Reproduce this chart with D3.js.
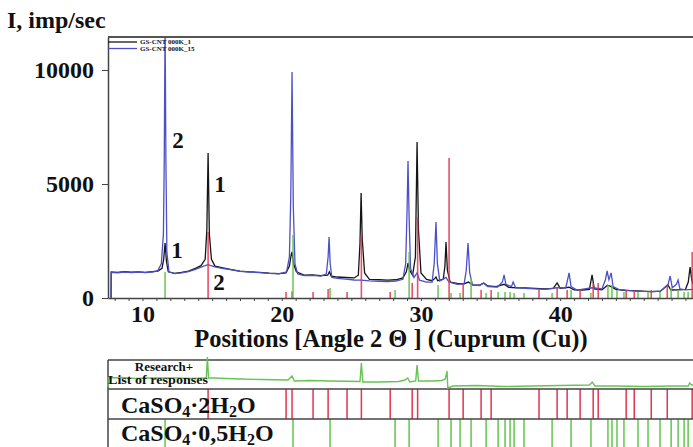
<!DOCTYPE html>
<html><head><meta charset="utf-8">
<script src="https://cdn.jsdelivr.net/npm/d3@7/dist/d3.min.js"></script>
<style>
body{margin:0;background:#fff;}
svg{display:block;}
text{font-family:"Liberation Serif","Times New Roman",serif;font-weight:bold;fill:#111;}
</style>
</head><body>
<svg id="chart" width="693" height="447"></svg>
<script>
// ---------------- data ----------------
const yTitle = "I, imp/sec";
const xTitle = "Positions [Angle 2 \u0398 ] (Cuprum (Cu))";
const xTickLabels = [10, 20, 30, 40];
const yTickValues = [0, 5000, 10000];
const legendNames = ["GS-CNT 000K_1", "GS-CNT 000K_15"];

// sample 1 (black)
const s1Theta = [7.74,7.75,8.2,8.7,9.2,9.7,10.2,10.7,11.1,11.4,11.52,11.62,11.72,11.85,12.3,12.8,13.3,13.8,14.2,14.5,14.62,14.71,14.8,14.95,15.2,15.7,16.3,17.0,17.7,18.4,19.1,19.8,20.3,20.55,20.68,20.74,20.85,21.05,21.6,22.2,22.8,23.3,23.42,23.55,24.0,24.6,25.2,25.5,25.62,25.70,25.78,25.95,26.3,27.0,27.6,28.2,28.7,28.95,29.07,29.2,29.4,29.6,29.72,29.82,30.0,30.4,30.8,31.0,31.08,31.2,31.6,31.72,31.80,31.9,32.1,32.6,33.1,33.4,33.7,34.2,34.5,34.8,35.4,35.97,36.3,36.9,37.5,38.2,38.9,39.5,39.78,40.0,40.64,41.0,41.6,42.1,42.29,42.45,43.0,43.4,43.66,44.0,44.6,45.2,45.9,46.6,47.2,47.74,47.95,48.5,49.0,49.2,49.33,49.45,49.54];
const s1Int   = [0,1140,1120,1160,1130,1150,1120,1160,1180,1300,1700,2410,1600,1150,1080,1120,1180,1300,1420,1700,3000,6360,2800,1700,1400,1330,1260,1180,1150,1120,1090,1070,1100,1400,1900,2020,1500,1150,1000,1010,980,1000,1150,960,920,900,880,1000,2400,4605,2600,1100,820,800,780,800,880,1150,1535,1200,1000,1800,6840,3000,1100,820,760,860,920,760,820,1400,2455,1200,700,640,620,700,580,560,660,530,500,600,470,450,440,420,400,420,660,420,470,360,350,380,1010,400,360,560,500,380,330,320,300,280,300,570,350,360,380,700,1360,800,600];

// sample 15 (blue)
const s15Theta = [7.74,7.75,8.2,8.7,9.2,9.7,10.2,10.7,11.1,11.35,11.5,11.56,11.62,11.68,11.75,11.9,12.3,12.8,13.3,13.8,14.3,14.7,15.2,15.7,16.3,17.0,17.7,18.4,19.1,19.8,20.35,20.55,20.65,20.74,20.83,20.95,21.15,21.6,22.2,22.8,23.2,23.33,23.40,23.48,23.6,24.0,24.6,25.2,25.7,26.3,27.0,27.6,28.2,28.7,28.9,29.0,29.07,29.15,29.25,29.5,29.72,29.9,30.4,30.8,30.95,31.08,31.18,31.35,31.8,32.0,32.6,33.1,33.25,33.38,33.5,33.7,34.2,34.5,34.8,35.5,35.85,35.97,36.1,36.5,36.62,36.8,37.5,38.2,38.9,39.78,40.4,40.55,40.64,40.78,41.2,42.29,43.0,43.25,43.37,43.5,43.66,43.8,44.2,44.6,45.2,45.9,46.6,47.2,47.75,47.9,48.05,48.35,48.47,48.6,49.0,49.54];
const s15Int   = [0,1120,1100,1140,1110,1140,1110,1140,1200,1500,2800,6000,12000,6000,2000,1150,1070,1100,1160,1260,1380,1460,1360,1300,1240,1170,1140,1110,1080,1060,1150,1800,4500,9910,4000,1500,1050,980,990,960,1050,1800,2675,1500,900,860,830,790,780,750,730,720,740,820,1500,3800,6010,3500,1300,900,1100,780,700,700,1500,3330,1500,750,900,700,600,620,1200,2410,1100,580,550,650,500,480,700,1010,600,500,700,450,420,400,380,450,450,850,1100,500,350,450,400,800,1185,800,1100,500,380,350,310,290,280,300,600,965,450,600,790,400,360,380];

// CaSO4·2H2O reference lines (red)
const gypTheta = [14.71,20.31,20.74,22.25,23.33,24.69,25.72,27.79,29.37,29.76,32.02,33.03,34.32,35.04,38.48,39.78,40.50,41.43,42.37,42.73,44.74,45.32,46.54,47.69,49.48];
const gypInt   = [2895,263,300,263,395,263,2760,263,660,3550,6140,615,350,350,350,480,350,350,660,660,350,350,350,570,2020];

// CaSO4·0,5H2O reference lines (green)
const basTheta = [11.62,20.81,23.47,28.14,29.15,31.23,32.16,32.81,33.6,34.68,35.54,36.04,36.40,36.69,37.40,39.42,40.78,42.21,43.43,43.72,44.08,44.58,45.59,46.31,47.17,47.97,48.47,48.90,49.19];
const basInt   = [1140,2760,440,350,2020,570,220,220,880,220,263,263,263,220,220,220,350,220,570,570,350,263,263,263,263,440,350,263,263];

// "Research + list of responses" miniature trace
const resTheta = [7.52,7.53,8.5,9.5,10.5,11.5,12.5,13.5,14.4,14.58,14.66,14.74,15.2,16,17,18.5,20.45,20.74,20.9,22,23.5,25.62,25.72,25.82,27,28.4,28.85,29.05,29.2,29.62,29.72,29.82,30.8,31.5,31.75,31.87,31.93,32.3,34,36,38,40,42.1,42.3,42.5,44,46,48,49.2,49.3,49.45,49.54];
const resLevel = [2,11,11.5,10.5,11,11,11,10.5,11,11,32,11,11,10.5,10,9.5,9,13,8,8.5,8,7.5,26,7,7,7.5,9,11,7,8,24,8,8,8.5,10,18,1,3,3.5,2.5,3,3.5,4,7,3,3,2.5,3,3,6,4,4];

const rowLabels = ["Research+", "List of responses"];
const phaseNames = [["CaSO","4","\u00b72H","2","O"], ["CaSO","4","\u00b70,5H","2","O"]];

const noteText  = ["2", "1", "1", "2"];
const noteTheta = [12.55, 15.57, 12.48, 15.5];
const noteInt   = [6580, 4650, 1750, 350];

// ---------------- drawing ----------------
const svg = d3.select("#chart");
const W = 693;
const plotL = 108, plotT = 37, plotB = 298;

const x = d3.scaleLinear().domain([7.52, 49.54]).range([plotL, W]);
const y = d3.scaleLinear().domain([0, 11447]).range([plotB, plotT]);

const colBlack = "#151515", colBlue = "#4c50c6", colRed = "#e4334f", colGreen = "#62c64c";

svg.append("defs").append("clipPath").attr("id", "clip")
  .append("rect").attr("x", plotL).attr("y", plotT).attr("width", W - plotL).attr("height", plotB - plotT);

const plot = svg.append("g").attr("clip-path", "url(#clip)");

const line = d3.line().x(d => x(d[0])).y(d => y(d[1]));
const s1 = s1Theta.map((t, i) => [t, s1Int[i]]);
const s15 = s15Theta.map((t, i) => [t, s15Int[i]]);

plot.append("path").datum(s1).attr("d", line)
  .attr("fill", "none").attr("stroke", colBlack).attr("stroke-width", 1.3);
plot.append("path").datum(s15).attr("d", line)
  .attr("fill", "none").attr("stroke", colBlue).attr("stroke-width", 1.3);

// reference sticks in main plot
plot.selectAll(".gs").data(gypTheta).enter().append("line")
  .attr("x1", d => x(d)).attr("x2", d => x(d))
  .attr("y1", y(0)).attr("y2", (d, i) => y(gypInt[i]))
  .attr("stroke", colRed).attr("stroke-width", 1.6).attr("opacity", 0.85);
plot.selectAll(".bs").data(basTheta).enter().append("line")
  .attr("x1", d => x(d)).attr("x2", d => x(d))
  .attr("y1", y(0)).attr("y2", (d, i) => y(basInt[i]))
  .attr("stroke", colGreen).attr("stroke-width", 1.6).attr("opacity", 0.9);

// frame
svg.append("line").attr("x1", plotL).attr("x2", W).attr("y1", plotT).attr("y2", plotT)
  .attr("stroke", "#555").attr("stroke-width", 2);

// axes
const yAxis = d3.axisLeft(y).tickValues(yTickValues).tickSize(6).tickSizeOuter(0).tickPadding(8)
  .tickFormat(d3.format("d"));
const gy = svg.append("g").attr("transform", `translate(${plotL},0)`).call(yAxis);
gy.select(".domain").attr("stroke", "#444").attr("stroke-width", 1.5);
gy.selectAll(".tick line").attr("stroke", "#444");
gy.selectAll("text").style("font-size", "24px").style("font-family", "'Liberation Serif',serif").style("font-weight", "bold").attr("fill", "#111");

const xAxis = d3.axisBottom(x).tickValues(d3.range(8, 50)).tickSize(3).tickSizeOuter(0).tickPadding(4)
  .tickFormat(d => xTickLabels.includes(d) ? d : "");
const gx = svg.append("g").attr("transform", `translate(0,${plotB})`).call(xAxis);
gx.select(".domain").attr("stroke", "#444").attr("stroke-width", 1.5);
gx.selectAll(".tick line").attr("stroke", "#444");
gx.selectAll("text").style("font-size", "24px").style("font-family", "'Liberation Serif',serif").style("font-weight", "bold").attr("fill", "#111");

// titles
svg.append("text").attr("x", 7).attr("y", 28).style("font-size", "24px").text(yTitle);
svg.append("text").attr("x", 391).attr("y", 347).attr("text-anchor", "middle").style("font-size", "24.5px").text(xTitle);

// legend
legendNames.forEach((n, i) => {
  const ly = 42 + i * 6.5;
  svg.append("line").attr("x1", plotL).attr("x2", 137).attr("y1", ly).attr("y2", ly)
    .attr("stroke", i === 0 ? colBlack : colBlue).attr("stroke-width", 1.3);
  svg.append("text").attr("x", 140).attr("y", ly + 2.4).style("font-size", "7px").text(n);
});

// peak notes
svg.selectAll(".note").data(noteText).enter().append("text")
  .attr("x", (d, i) => x(noteTheta[i])).attr("y", (d, i) => y(noteInt[i]))
  .attr("text-anchor", "middle").style("font-size", "23px").text(d => d);

// ---------------- bottom panels ----------------
const rTop = 360, r1 = 389, r2 = 419, rBot = 447;
const yR = d3.scaleLinear().domain([0, 30]).range([r1, r1 - 30]);

// stick rows
svg.selectAll(".gr").data(gypTheta).enter().append("line")
  .attr("x1", d => x(d)).attr("x2", d => x(d)).attr("y1", r1).attr("y2", r2)
  .attr("stroke", colRed).attr("stroke-width", 1.5);
svg.selectAll(".br").data(basTheta).enter().append("line")
  .attr("x1", d => x(d)).attr("x2", d => x(d)).attr("y1", r2).attr("y2", rBot + 2)
  .attr("stroke", colGreen).attr("stroke-width", 1.5);

// borders
[rTop, r1, r2].forEach(yy => svg.append("line").attr("x1", plotL).attr("x2", W)
  .attr("y1", yy).attr("y2", yy).attr("stroke", "#444").attr("stroke-width", 1.5));
svg.append("line").attr("x1", plotL).attr("x2", plotL).attr("y1", rTop).attr("y2", rBot + 2)
  .attr("stroke", "#444").attr("stroke-width", 1.5);

// research mini trace
const res = resTheta.map((t, i) => [t, resLevel[i]]);
svg.append("path").datum(res)
  .attr("d", d3.line().x(d => x(d[0])).y(d => yR(d[1])))
  .attr("fill", "none").attr("stroke", "#66c452").attr("stroke-width", 1.4);

// row labels
svg.append("text").attr("x", 164).attr("y", 370.5).attr("text-anchor", "middle").style("font-size", "13px").text(rowLabels[0]);
svg.append("text").attr("x", 158).attr("y", 384).attr("text-anchor", "middle").style("font-size", "13.5px")
  .attr("textLength", 100).attr("lengthAdjust", "spacingAndGlyphs").text(rowLabels[1]);

phaseNames.forEach((parts, i) => {
  const t = svg.append("text").attr("x", 121).attr("y", i === 0 ? 413 : 441).style("font-size", "24px");
  parts.forEach((p, k) => {
    const sub = k % 2 === 1;
    t.append("tspan").attr("dy", sub ? 4 : (k > 0 ? -4 : 0))
      .style("font-size", sub ? "16px" : "24px").text(p);
  });
});
</script>
</body></html>
